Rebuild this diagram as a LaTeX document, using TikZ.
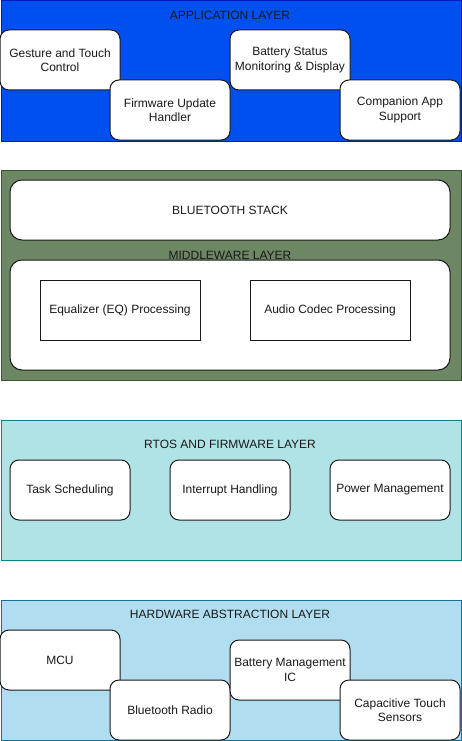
\documentclass[tikz,border=0pt]{standalone}
\usepackage{fontspec}
\setmainfont{Liberation Sans}
\definecolor{appfill}{HTML}{0050EF}
\definecolor{appdraw}{HTML}{001DBC}
\definecolor{midfill}{HTML}{6D8764}
\definecolor{middraw}{HTML}{3A5431}
\definecolor{rtosfill}{HTML}{B0E3E6}
\definecolor{rtosdraw}{HTML}{0E8088}
\definecolor{halfill}{HTML}{B1DDF0}
\definecolor{haldraw}{HTML}{10739E}
\begin{document}
\begin{tikzpicture}[x=1pt,y=-1pt,
  every node/.style={font=\fontsize{12}{14.5}\selectfont, text=black!90},
  layer/.style={draw, line width=1pt, inner sep=0pt, anchor=north west},
  ttl/.style={inner sep=0pt},
  rbox/.style={draw=black!90, line width=1pt, fill=white, rounded corners=9pt, inner sep=1pt, minimum width=120pt, minimum height=60pt, align=center},
  sbox/.style={draw=black!90, line width=1pt, fill=white, inner sep=1pt, minimum width=160pt, minimum height=60pt, align=center},
  bigbox/.style={draw=black!90, line width=1pt, fill=white, rounded corners=12pt, inner sep=0pt, minimum width=440pt}
]
\useasboundingbox (0,0) rectangle (461,741);
% Application layer
\node[layer, fill=appfill, draw=appdraw, minimum width=460pt, minimum height=140pt] (app) at (0.5,0.5) {};
\node[ttl] (apptitle) at (230,15) {APPLICATION LAYER};
\node[rbox] (gesture) at (60,60) {Gesture and Touch\\Control};
\node[rbox] (firmware) at (170,110) {Firmware Update\\Handler};
\node[rbox] (battstat) at (290,60) {Battery Status\\Monitoring \& Display};
\node[rbox] (companion) at (400,110) {Companion App\\Support};
% Middleware layer
\node[layer, fill=midfill, draw=middraw, minimum width=460pt, minimum height=210pt] (mid) at (0.5,170) {};
\node[bigbox, minimum height=60pt] (bt) at (230,210) {BLUETOOTH STACK};
\node[ttl] (midtitle) at (230,255) {MIDDLEWARE LAYER};
\node[bigbox, minimum height=110pt] (midinner) at (230,315) {};
\node[sbox] (eq) at (120,310) {Equalizer (EQ) Processing};
\node[sbox] (codec) at (330,310) {Audio Codec Processing};
% RTOS layer
\node[layer, fill=rtosfill, draw=rtosdraw, minimum width=460pt, minimum height=140pt] (rtos) at (0.5,420) {};
\node[ttl] (rtostitle) at (230,444) {RTOS AND FIRMWARE LAYER};
\node[rbox] (task) at (70,490) {Task Scheduling};
\node[rbox] (irq) at (230,490) {Interrupt Handling};
\node[rbox] (power) at (390,490) {Power Management};
% Hardware abstraction layer
\node[layer, fill=halfill, draw=haldraw, minimum width=460pt, minimum height=140pt] (hal) at (0.5,600) {};
\node[ttl] (haltitle) at (230,614) {HARDWARE ABSTRACTION LAYER};
\node[rbox] (mcu) at (60,660) {MCU};
\node[rbox] (radio) at (170,710) {Bluetooth Radio};
\node[rbox] (bmic) at (290,670) {Battery Management\\IC};
\node[rbox] (touch) at (400,710) {Capacitive Touch\\Sensors};
\end{tikzpicture}
\end{document}
